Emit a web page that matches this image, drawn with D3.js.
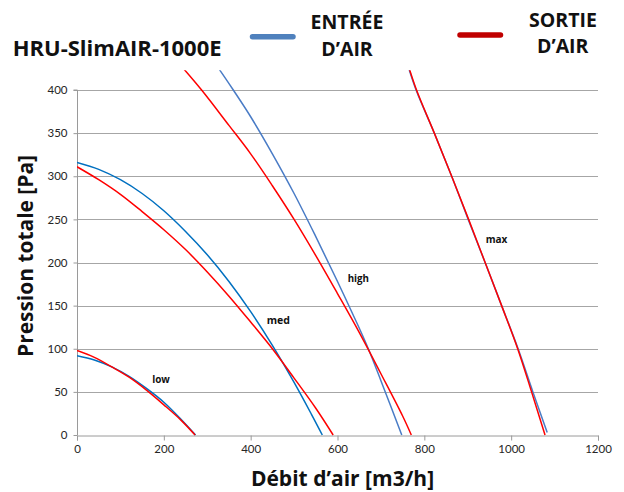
<!DOCTYPE html>
<html>
<head>
<meta charset="utf-8">
<script src="https://cdn.jsdelivr.net/npm/d3@7"></script>
<style>
  html, body { margin: 0; padding: 0; background: #fff; }
  svg { display: block; }
  text { font-family: "Open Sans", Lato, sans-serif; }
</style>
</head>
<body>
<svg id="chart" width="624" height="492"></svg>
<script>
// ---------- data ----------
const chartTitle = "HRU-SlimAIR-1000E";
const xTicks = [0, 200, 400, 600, 800, 1000, 1200];
const yTicks = [0, 50, 100, 150, 200, 250, 300, 350, 400];
const xTitle = "Débit d’air [m3/h]";
const yTitle = "Pression totale [Pa]";
const legendIn = ["ENTRÉE", "D’AIR"];
const legendOut = ["SORTIE", "D’AIR"];
const speedNames = ["low", "med", "high", "max"];

// ENTRÉE D'AIR (blue)
const lowInX  = [0, 40, 80, 120, 160, 200, 240, 273];
const lowInY  = [92, 87, 79, 68, 54, 38, 18, 0];
const medInX  = [0, 50, 100, 150, 200, 250, 300, 350, 400, 450, 500, 540, 565];
const medInY  = [316, 308, 296, 280, 260, 236, 209, 178, 143, 104, 61, 24, 0];
const highInX = [318, 340, 360, 400, 450, 500, 550, 600, 650, 671, 700, 748];
const highInY = [431, 415, 400, 369, 326, 280, 230, 178, 124, 100, 63, 0];
const maxInX  = [761, 781, 823, 863, 901, 940, 978, 1016, 1050, 1083];
const maxInY  = [430, 400, 350, 300, 250, 200, 150, 100, 50, 3];

// SORTIE D'AIR (red)
const lowOutX  = [0, 40, 80, 120, 160, 200, 240, 272];
const lowOutY  = [98, 90, 79, 67, 52, 35, 17, 0];
const medOutX  = [0, 50, 100, 150, 200, 250, 300, 350, 400, 450, 500, 550, 590];
const medOutY  = [311, 296, 279, 259, 238, 215, 189, 161, 131, 100, 66, 31, 0];
const highOutX = [238, 287, 350, 400, 450, 500, 550, 600, 650, 700, 750, 770];
const highOutY = [429, 400, 359, 326, 289, 250, 208, 164, 119, 71, 22, 0];
const maxOutX  = [762, 782, 823, 863, 902, 940, 978, 1015, 1047, 1078];
const maxOutY  = [430, 400, 350, 300, 250, 200, 150, 100, 50, 0];

// ---------- setup ----------
const svg = d3.select("#chart");
const x = d3.scaleLinear().domain([0, 1200]).range([77, 598]);
const y = d3.scaleLinear().domain([0, 400]).range([435, 90]);

const zip = (xs, ys) => xs.map((v, i) => [v, ys[i]]);
const series = [
  { pts: zip(lowInX, lowInY),   color: "#0070C0" },
  { pts: zip(medInX, medInY),   color: "#0070C0" },
  { pts: zip(highInX, highInY), color: "#4A7CC6" },
  { pts: zip(maxInX, maxInY),   color: "#4A7CC6" },
  { pts: zip(lowOutX, lowOutY),   color: "#FF0000" },
  { pts: zip(medOutX, medOutY),   color: "#FF0000" },
  { pts: zip(highOutX, highOutY), color: "#FF0000" },
  { pts: zip(maxOutX, maxOutY),   color: "#FF0000" }
];

function squeeze(sel, size, targetWidth) {
  sel.style("font-size", size + "px");
  const w = sel.node().getComputedTextLength();
  if (w > targetWidth) sel.attr("textLength", targetWidth).attr("lengthAdjust", "spacingAndGlyphs");
  return sel;
}

// ---------- grid ----------
svg.append("g")
  .selectAll("line")
  .data(yTicks.filter(d => d > 0))
  .join("line")
  .attr("x1", x(0)).attr("x2", x(1200))
  .attr("y1", d => Math.round(y(d)) + 0.5).attr("y2", d => Math.round(y(d)) + 0.5)
  .attr("stroke", "#a6a6a6").attr("stroke-width", 1);

// ---------- axes ----------
const xAxis = d3.axisBottom(x).tickValues(xTicks).tickSize(5).tickPadding(4).tickFormat(d3.format("d"));
const yAxis = d3.axisLeft(y).tickValues(yTicks).tickSize(4).tickPadding(6).tickFormat(d3.format("d"));

const gx = svg.append("g").attr("transform", `translate(0,${Math.round(y(0)) + 0.5})`).call(xAxis);
const gy = svg.append("g").attr("transform", `translate(${Math.round(x(0)) + 0.5},0)`).call(yAxis);
[gx, gy].forEach(g => {
  g.select(".domain").attr("stroke", "#9a9a9a");
  g.selectAll(".tick line").attr("stroke", "#9a9a9a");
  g.selectAll(".tick text").attr("fill", "#262626")
    .style("font-family", "Lato, sans-serif").style("font-size", "11.5px");
});
gy.select(".domain").attr("d", `M-4,${y(400)}H0V${y(0)}`);

// ---------- curves ----------
svg.append("defs").append("clipPath").attr("id", "plotClip")
  .append("rect").attr("x", x(0)).attr("y", y(423))
  .attr("width", x(1200) - x(0)).attr("height", y(0) - y(423) + 2);

const line = d3.line().x(d => x(d[0])).y(d => y(d[1])).curve(d3.curveCatmullRom.alpha(0.5));
svg.append("g").attr("clip-path", "url(#plotClip)")
  .selectAll("path")
  .data(series)
  .join("path")
  .attr("d", d => line(d.pts))
  .attr("fill", "none")
  .attr("stroke", d => d.color)
  .attr("stroke-width", 1.5);

// ---------- speed labels ----------
const labelPos = [[193.5, 60], [463.6, 128.7], [647.9, 177.7], [966.2, 223]];
const labelW = [17.7, 23.3, 21.3, 21.7];
speedNames.forEach((name, i) => {
  const t = svg.append("text")
    .attr("x", x(labelPos[i][0])).attr("y", y(labelPos[i][1]))
    .attr("text-anchor", "middle").attr("font-weight", "bold").attr("fill", "#111")
    .text(name);
  squeeze(t, 11, labelW[i]);
});

// ---------- title ----------
const title = svg.append("text").attr("x", 12.7).attr("y", 56)
  .attr("font-weight", "bold").attr("fill", "#111").text(chartTitle);
squeeze(title, 22, 210);

// ---------- legend ----------
svg.append("line").attr("x1", 252.5).attr("x2", 293).attr("y1", 36.7).attr("y2", 36.7)
  .attr("stroke", "#4F81BD").attr("stroke-width", 5.5).attr("stroke-linecap", "round");
svg.append("line").attr("x1", 460).attr("x2", 500.5).attr("y1", 35).attr("y2", 35)
  .attr("stroke", "#C00000").attr("stroke-width", 5.5).attr("stroke-linecap", "round");

const lgSpecs = [
  { text: legendIn[0],  cx: 347,   by: 29.3, w: 78 },
  { text: legendIn[1],  cx: 347,   by: 56,   w: 60 },
  { text: legendOut[0], cx: 563,   by: 27.3, w: 72.6 },
  { text: legendOut[1], cx: 562.7, by: 53.3, w: 60 }
];
lgSpecs.forEach(s => {
  const t = svg.append("text").attr("x", s.cx).attr("y", s.by)
    .attr("text-anchor", "middle").attr("font-weight", "bold").attr("fill", "#111")
    .text(s.text);
  squeeze(t, 19.5, s.w);
});

// ---------- axis titles ----------
const xt = svg.append("text").attr("x", 342.5).attr("y", 486)
  .attr("text-anchor", "middle").attr("font-weight", "bold").attr("fill", "#111").text(xTitle);
squeeze(xt, 21, 191);
const yt = svg.append("text").attr("transform", "translate(33,256) rotate(-90)")
  .attr("text-anchor", "middle").attr("font-weight", "bold").attr("fill", "#111").text(yTitle);
squeeze(yt, 21, 202);
</script>
</body>
</html>
